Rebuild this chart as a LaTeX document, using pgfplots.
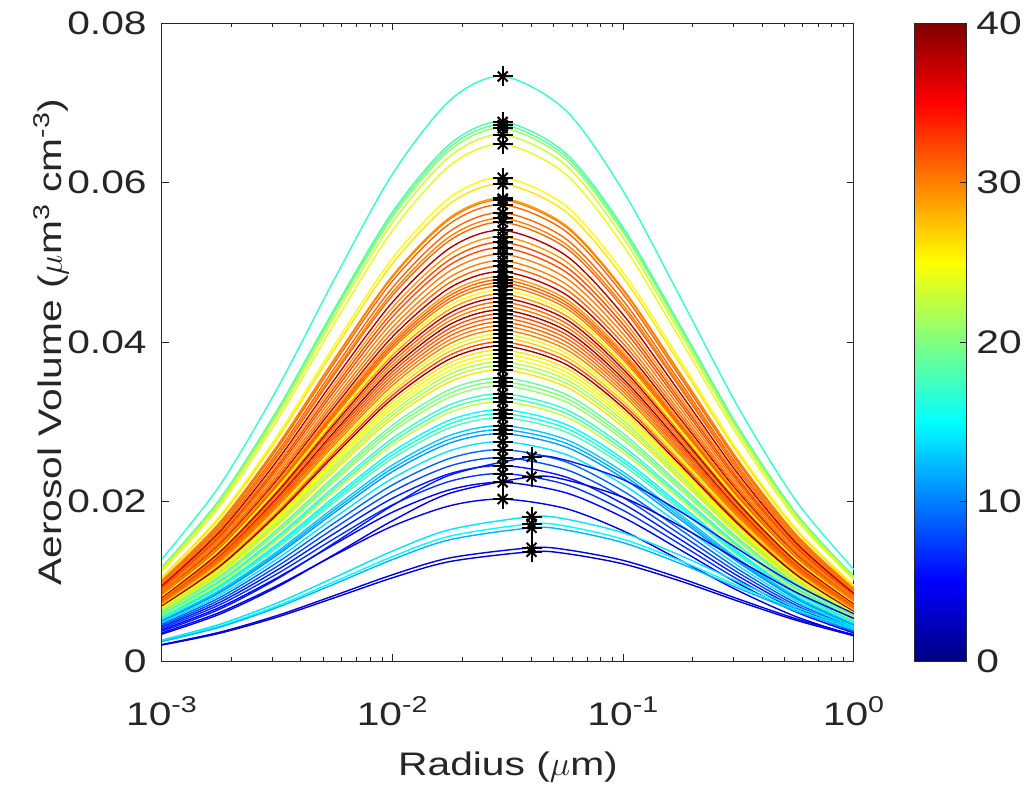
\documentclass[border=0pt]{standalone}
\usepackage{fontspec}
\setmainfont{Liberation Sans}[FakeStretch=1.25]
\usepackage{pgfplots}
\usepackage{pgfplotstable}
\pgfplotsset{compat=1.18}
\definecolor{axgray}{RGB}{38,38,38}

% size distributions, modal radius 0.03 um
\pgfplotstableread{
x        c1      c2      c3      c4      c5      c6      c7      c8      c9      c10     c11
0.001    0.01280 0.01180 0.01173 0.01166 0.01152 0.01131 0.01058 0.01044 0.01013 0.00999 0.00981
0.001778 0.02198 0.02027 0.02015 0.02003 0.01979 0.01943 0.01817 0.01793 0.01739 0.01715 0.01685
0.003162 0.03416 0.03150 0.03132 0.03113 0.03076 0.03020 0.02824 0.02787 0.02703 0.02666 0.02619
0.005623 0.04803 0.04429 0.04403 0.04377 0.04324 0.04246 0.03971 0.03918 0.03800 0.03748 0.03682
0.01     0.06110 0.05635 0.05602 0.05568 0.05502 0.05402 0.05052 0.04985 0.04835 0.04768 0.04685
0.01778  0.07034 0.06487 0.06449 0.06410 0.06333 0.06218 0.05815 0.05738 0.05566 0.05489 0.05393
0.03     0.0733  0.0676  0.0672  0.0668  0.0660  0.0648  0.0606  0.0598  0.0580  0.0572  0.0562
0.05623  0.06906 0.06369 0.06331 0.06293 0.06218 0.06105 0.05709 0.05634 0.05464 0.05389 0.05295
0.1      0.05890 0.05432 0.05400 0.05367 0.05303 0.05207 0.04869 0.04805 0.04660 0.04596 0.04516
0.1778   0.04545 0.04191 0.04166 0.04142 0.04092 0.04018 0.03757 0.03708 0.03596 0.03546 0.03484
0.3162   0.03173 0.02926 0.02909 0.02892 0.02857 0.02805 0.02623 0.02589 0.02511 0.02476 0.02433
0.5623   0.02005 0.01849 0.01838 0.01827 0.01805 0.01772 0.01657 0.01636 0.01586 0.01564 0.01537
1        0.01146 0.01057 0.01051 0.01045 0.01032 0.01014 0.00948 0.00935 0.00907 0.00895 0.00879
}\tabA

\pgfplotstableread{
x        c1      c2      c3      c4      c5      c6      c7      c8      c9      c10     c11
0.001    0.00969 0.00943 0.00917 0.00890 0.00864 0.00842 0.00828 0.00812 0.00794 0.00777 0.00760
0.001778 0.01664 0.01619 0.01574 0.01529 0.01485 0.01446 0.01422 0.01395 0.01365 0.01335 0.01305
0.003162 0.02586 0.02516 0.02447 0.02377 0.02307 0.02246 0.02209 0.02167 0.02120 0.02074 0.02027
0.005623 0.03636 0.03538 0.03440 0.03342 0.03243 0.03158 0.03106 0.03047 0.02981 0.02916 0.02850
0.01     0.04626 0.04501 0.04376 0.04251 0.04126 0.04018 0.03951 0.03876 0.03793 0.03709 0.03626
0.01778  0.05326 0.05182 0.05038 0.04894 0.04750 0.04625 0.04549 0.04462 0.04366 0.04270 0.04174
0.03     0.0555  0.0540  0.0525  0.0510  0.0495  0.0482  0.0474  0.0465  0.0455  0.0445  0.0435
0.05623  0.05229 0.05087 0.04946 0.04805 0.04663 0.04541 0.04466 0.04381 0.04287 0.04192 0.04098
0.1      0.04459 0.04339 0.04218 0.04098 0.03977 0.03873 0.03809 0.03736 0.03656 0.03576 0.03495
0.1778   0.03441 0.03348 0.03255 0.03162 0.03069 0.02988 0.02939 0.02883 0.02821 0.02759 0.02697
0.3162   0.02403 0.02338 0.02273 0.02208 0.02143 0.02087 0.02052 0.02013 0.01970 0.01926 0.01883
0.5623   0.01518 0.01477 0.01436 0.01395 0.01354 0.01318 0.01296 0.01272 0.01244 0.01217 0.01190
1        0.00868 0.00845 0.00821 0.00798 0.00774 0.00754 0.00741 0.00727 0.00712 0.00696 0.00680
}\tabB

\pgfplotstableread{
x        c1      c2      c3      c4      c5      c6      c7      c8      c9      c10     c11
0.001    0.00742 0.00725 0.00707 0.00690 0.00672 0.00655 0.00637 0.00620 0.00602 0.00585 0.00567
0.001778 0.01275 0.01245 0.01215 0.01185 0.01155 0.01125 0.01095 0.01065 0.01035 0.01005 0.00975
0.003162 0.01981 0.01934 0.01887 0.01841 0.01794 0.01748 0.01701 0.01654 0.01608 0.01561 0.01515
0.005623 0.02785 0.02719 0.02654 0.02588 0.02523 0.02457 0.02391 0.02326 0.02260 0.02195 0.02129
0.01     0.03543 0.03459 0.03376 0.03293 0.03209 0.03126 0.03043 0.02959 0.02876 0.02793 0.02709
0.01778  0.04078 0.03982 0.03886 0.03790 0.03694 0.03599 0.03503 0.03407 0.03311 0.03215 0.03119
0.03     0.0425  0.0415  0.0405  0.0395  0.0385  0.0375  0.0365  0.0355  0.0345  0.0335  0.0325
0.05623  0.04004 0.03910 0.03816 0.03721 0.03627 0.03533 0.03439 0.03345 0.03250 0.03156 0.03062
0.1      0.03415 0.03335 0.03254 0.03174 0.03093 0.03013 0.02933 0.02852 0.02772 0.02692 0.02611
0.1778   0.02635 0.02573 0.02511 0.02449 0.02387 0.02325 0.02263 0.02201 0.02139 0.02077 0.02015
0.3162   0.01840 0.01797 0.01753 0.01710 0.01667 0.01623 0.01580 0.01537 0.01494 0.01450 0.01407
0.5623   0.01162 0.01135 0.01108 0.01080 0.01053 0.01026 0.00998 0.00971 0.00944 0.00916 0.00889
1        0.00665 0.00649 0.00633 0.00618 0.00602 0.00587 0.00571 0.00555 0.00540 0.00524 0.00508
}\tabC

\pgfplotstableread{
x        c1      c2      c3      c4      c5      c6      c7      c8      c9      c10     c11
0.001    0.00550 0.00533 0.00515 0.00498 0.00480 0.00463 0.00445 0.00428 0.00410 0.00391 0.00354
0.001778 0.00945 0.00915 0.00885 0.00855 0.00825 0.00795 0.00765 0.00735 0.00705 0.00672 0.00609
0.003162 0.01468 0.01421 0.01375 0.01328 0.01282 0.01235 0.01188 0.01142 0.01095 0.01044 0.00946
0.005623 0.02064 0.01998 0.01933 0.01867 0.01802 0.01736 0.01671 0.01605 0.01540 0.01468 0.01330
0.01     0.02626 0.02542 0.02459 0.02376 0.02292 0.02209 0.02126 0.02042 0.01959 0.01867 0.01692
0.01778  0.03023 0.02927 0.02831 0.02735 0.02639 0.02543 0.02447 0.02351 0.02255 0.02149 0.01948
0.03     0.0315  0.0305  0.0295  0.0285  0.0275  0.0265  0.0255  0.0245  0.0235  0.0224  0.0203
0.05623  0.02968 0.02873 0.02779 0.02685 0.02591 0.02497 0.02402 0.02308 0.02214 0.02110 0.01912
0.1      0.02531 0.02451 0.02370 0.02290 0.02210 0.02129 0.02049 0.01969 0.01888 0.01800 0.01631
0.1778   0.01953 0.01891 0.01829 0.01767 0.01705 0.01643 0.01581 0.01519 0.01457 0.01389 0.01259
0.3162   0.01364 0.01320 0.01277 0.01234 0.01190 0.01147 0.01104 0.01061 0.01017 0.00970 0.00879
0.5623   0.00862 0.00834 0.00807 0.00779 0.00752 0.00725 0.00697 0.00670 0.00643 0.00613 0.00555
1        0.00493 0.00477 0.00461 0.00446 0.00430 0.00414 0.00399 0.00383 0.00368 0.00350 0.00317
}\tabD

\pgfplotstableread{
x        c1      c2      c3      c4      c5      c6      c7      c8      c9      c10     c11
0.001    0.01009 0.00960 0.00929 0.00904 0.00876 0.00852 0.00835 0.00821 0.00803 0.00786 0.00768
0.001778 0.01733 0.01649 0.01595 0.01553 0.01505 0.01464 0.01434 0.01410 0.01380 0.01350 0.01320
0.003162 0.02693 0.02563 0.02479 0.02414 0.02339 0.02274 0.02227 0.02190 0.02144 0.02097 0.02050
0.005623 0.03787 0.03604 0.03486 0.03394 0.03289 0.03197 0.03132 0.03079 0.03014 0.02948 0.02883
0.01     0.04818 0.04585 0.04435 0.04318 0.04185 0.04068 0.03985 0.03918 0.03835 0.03751 0.03668
0.01778  0.05546 0.05278 0.05105 0.04971 0.04817 0.04683 0.04587 0.04510 0.04414 0.04318 0.04222
0.03     0.0578  0.0550  0.0532  0.0518  0.0502  0.0488  0.0478  0.0470  0.0460  0.0450  0.0440
0.05623  0.05445 0.05182 0.05012 0.04880 0.04729 0.04597 0.04503 0.04428 0.04334 0.04239 0.04145
0.1      0.04644 0.04419 0.04275 0.04162 0.04034 0.03921 0.03841 0.03776 0.03696 0.03616 0.03535
0.1778   0.03584 0.03410 0.03298 0.03212 0.03112 0.03026 0.02964 0.02914 0.02852 0.02790 0.02728
0.3162   0.02502 0.02381 0.02303 0.02242 0.02173 0.02113 0.02069 0.02035 0.01991 0.01948 0.01905
0.5623   0.01581 0.01504 0.01455 0.01417 0.01373 0.01335 0.01307 0.01285 0.01258 0.01231 0.01203
1        0.00904 0.00860 0.00832 0.00810 0.00785 0.00763 0.00748 0.00735 0.00719 0.00704 0.00688
}\tabF

\pgfplotstableread{
x        c1      c2      c3      c4      c5      c6      c7      c8      c9      c10     c11
0.001    0.00751 0.00733 0.00716 0.00698 0.00681 0.00663 0.00646 0.00611 0.00576 0.00541 0.00506
0.001778 0.01290 0.01260 0.01230 0.01200 0.01170 0.01140 0.01110 0.01050 0.00990 0.00930 0.00870
0.003162 0.02004 0.01957 0.01911 0.01864 0.01817 0.01771 0.01724 0.01631 0.01538 0.01445 0.01351
0.005623 0.02817 0.02752 0.02686 0.02621 0.02555 0.02490 0.02424 0.02293 0.02162 0.02031 0.01900
0.01     0.03584 0.03501 0.03418 0.03334 0.03251 0.03168 0.03084 0.02918 0.02751 0.02584 0.02417
0.01778  0.04126 0.04030 0.03934 0.03838 0.03742 0.03646 0.03551 0.03359 0.03167 0.02975 0.02783
0.03     0.0430  0.0420  0.0410  0.0400  0.0390  0.0380  0.0370  0.0350  0.0330  0.0310  0.0290
0.05623  0.04051 0.03957 0.03863 0.03768 0.03674 0.03580 0.03486 0.03297 0.03109 0.02921 0.02732
0.1      0.03455 0.03375 0.03294 0.03214 0.03134 0.03053 0.02973 0.02812 0.02652 0.02491 0.02330
0.1778   0.02666 0.02604 0.02542 0.02480 0.02418 0.02356 0.02294 0.02170 0.02046 0.01922 0.01798
0.3162   0.01861 0.01818 0.01775 0.01732 0.01688 0.01645 0.01602 0.01515 0.01429 0.01342 0.01255
0.5623   0.01176 0.01149 0.01121 0.01094 0.01067 0.01039 0.01012 0.00957 0.00903 0.00848 0.00793
1        0.00673 0.00657 0.00641 0.00626 0.00610 0.00594 0.00579 0.00547 0.00516 0.00485 0.00454
}\tabG

% modal radius 0.04 um
\pgfplotstableread{
x        c1      c2      c3      c4      c5      c6      c7
0.001    0.00374 0.00337 0.00264 0.00251 0.00244 0.00207 0.00200
0.001778 0.00650 0.00587 0.00460 0.00437 0.00424 0.00361 0.00348
0.003162 0.01030 0.00929 0.00728 0.00692 0.00672 0.00571 0.00551
0.005623 0.01485 0.01340 0.01050 0.00998 0.00969 0.00824 0.00795
0.01     0.01951 0.01760 0.01379 0.01311 0.01273 0.01082 0.01044
0.01778  0.02333 0.02105 0.01649 0.01567 0.01522 0.01294 0.01248
0.04     0.0256  0.0231  0.0181  0.0172  0.0167  0.0142  0.0137
0.05623  0.02518 0.02272 0.01780 0.01692 0.01643 0.01397 0.01348
0.1      0.02273 0.02051 0.01607 0.01527 0.01483 0.01261 0.01217
0.1778   0.01869 0.01686 0.01321 0.01255 0.01219 0.01036 0.01000
0.3162   0.01398 0.01262 0.00989 0.00939 0.00912 0.00776 0.00748
0.5623   0.00953 0.00860 0.00674 0.00640 0.00622 0.00529 0.00510
1        0.00591 0.00533 0.00418 0.00397 0.00386 0.00329 0.00316
}\tabE

% peak positions of all distributions
\pgfplotstableread{
r     v
0.03  0.0733
0.03  0.0676
0.03  0.0672
0.03  0.0668
0.03  0.0660
0.03  0.0648
0.03  0.0606
0.03  0.0598
0.03  0.0580
0.03  0.0578
0.03  0.0572
0.03  0.0562
0.03  0.0555
0.03  0.0550
0.03  0.0540
0.03  0.0532
0.03  0.0525
0.03  0.0518
0.03  0.0510
0.03  0.0502
0.03  0.0495
0.03  0.0488
0.03  0.0482
0.03  0.0478
0.03  0.0474
0.03  0.0470
0.03  0.0465
0.03  0.0460
0.03  0.0455
0.03  0.0450
0.03  0.0445
0.03  0.0440
0.03  0.0435
0.03  0.0430
0.03  0.0425
0.03  0.0420
0.03  0.0415
0.03  0.0410
0.03  0.0405
0.03  0.0400
0.03  0.0395
0.03  0.0390
0.03  0.0385
0.03  0.0380
0.03  0.0375
0.03  0.0370
0.03  0.0365
0.03  0.0355
0.03  0.0350
0.03  0.0345
0.03  0.0335
0.03  0.0330
0.03  0.0325
0.03  0.0315
0.03  0.0310
0.03  0.0305
0.03  0.0295
0.03  0.0290
0.03  0.0285
0.03  0.0275
0.03  0.0265
0.03  0.0255
0.03  0.0245
0.03  0.0235
0.03  0.0224
0.03  0.0203
0.04  0.0256
0.04  0.0231
0.04  0.0181
0.04  0.0172
0.04  0.0167
0.04  0.0142
0.04  0.0137
}\peaks

\begin{document}
\fontsize{16.3}{19}\selectfont
\begin{tikzpicture}
\useasboundingbox (-81pt,-66.5pt) rectangle (431pt,330.5pt);
\begin{axis}[
  at={(0,0)}, anchor=south west,
  scale only axis, width=346pt, height=319pt,
  xmode=log, xmin=0.001, xmax=1, ymin=0, ymax=0.08,
  xtick={0.001,0.01,0.1,1},
  xticklabels={10\textsuperscript{-3},10\textsuperscript{-2},10\textsuperscript{-1},10\textsuperscript{0}},
  ytick={0,0.02,0.04,0.06,0.08},
  yticklabels={0,0.02,0.04,0.06,0.08},
  scaled y ticks=false,
  axis line style={draw=axgray, line width=0.5pt},
  tick style={draw=axgray, line width=0.5pt},
  major tick length=3.5pt, minor tick length=2pt,
  tick label style={text=axgray},
  xticklabel style={anchor=base, yshift=-32pt},
  yticklabel style={anchor=east, inner sep=0pt, xshift=-7.5pt},
  xlabel={Radius ($\mu$m)},
  ylabel={Aerosol Volume ($\mu$m\textsuperscript{3} cm\textsuperscript{-3})},
  xlabel style={at={(axis description cs:0.5,-0.1787)}, anchor=base, text=axgray},
  ylabel style={at={(axis description cs:-0.1445,0.5)}, anchor=base, text=axgray},
  colormap/jet,
  curve/.style={smooth, line width=0.7pt},
]
\addplot[curve, color of colormap={425 of jet}] table[x=x,y=c1]{\tabA};
\addplot[curve, color of colormap={450 of jet}] table[x=x,y=c2]{\tabA};
\addplot[curve, color of colormap={475 of jet}] table[x=x,y=c3]{\tabA};
\addplot[curve, color of colormap={525 of jet}] table[x=x,y=c4]{\tabA};
\addplot[curve, color of colormap={575 of jet}] table[x=x,y=c5]{\tabA};
\addplot[curve, color of colormap={600 of jet}] table[x=x,y=c6]{\tabA};
\addplot[curve, color of colormap={625 of jet}] table[x=x,y=c7]{\tabA};
\addplot[curve, color of colormap={650 of jet}] table[x=x,y=c8]{\tabA};
\addplot[curve, color of colormap={725 of jet}] table[x=x,y=c9]{\tabA};
\addplot[curve, color of colormap={775 of jet}] table[x=x,y=c10]{\tabA};
\addplot[curve, color of colormap={775 of jet}] table[x=x,y=c11]{\tabA};

\addplot[curve, color of colormap={750 of jet}] table[x=x,y=c1]{\tabF};
\addplot[curve, color of colormap={775 of jet}] table[x=x,y=c2]{\tabF};
\addplot[curve, color of colormap={725 of jet}] table[x=x,y=c3]{\tabF};
\addplot[curve, color of colormap={800 of jet}] table[x=x,y=c4]{\tabF};
\addplot[curve, color of colormap={750 of jet}] table[x=x,y=c5]{\tabF};
\addplot[curve, color of colormap={950 of jet}] table[x=x,y=c6]{\tabF};
\addplot[curve, color of colormap={775 of jet}] table[x=x,y=c7]{\tabF};
\addplot[curve, color of colormap={750 of jet}] table[x=x,y=c8]{\tabF};
\addplot[curve, color of colormap={725 of jet}] table[x=x,y=c9]{\tabF};
\addplot[curve, color of colormap={775 of jet}] table[x=x,y=c10]{\tabF};
\addplot[curve, color of colormap={975 of jet}] table[x=x,y=c11]{\tabF};

\addplot[curve, color of colormap={750 of jet}] table[x=x,y=c1]{\tabB};
\addplot[curve, color of colormap={950 of jet}] table[x=x,y=c2]{\tabB};
\addplot[curve, color of colormap={800 of jet}] table[x=x,y=c3]{\tabB};
\addplot[curve, color of colormap={750 of jet}] table[x=x,y=c4]{\tabB};
\addplot[curve, color of colormap={775 of jet}] table[x=x,y=c5]{\tabB};
\addplot[curve, color of colormap={725 of jet}] table[x=x,y=c6]{\tabB};
\addplot[curve, color of colormap={775 of jet}] table[x=x,y=c7]{\tabB};
\addplot[curve, color of colormap={625 of jet}] table[x=x,y=c8]{\tabB};
\addplot[curve, color of colormap={950 of jet}] table[x=x,y=c9]{\tabB};
\addplot[curve, color of colormap={750 of jet}] table[x=x,y=c10]{\tabB};
\addplot[curve, color of colormap={800 of jet}] table[x=x,y=c11]{\tabB};

\addplot[curve, color of colormap={775 of jet}] table[x=x,y=c1]{\tabG};
\addplot[curve, color of colormap={750 of jet}] table[x=x,y=c2]{\tabG};
\addplot[curve, color of colormap={600 of jet}] table[x=x,y=c3]{\tabG};
\addplot[curve, color of colormap={800 of jet}] table[x=x,y=c4]{\tabG};
\addplot[curve, color of colormap={650 of jet}] table[x=x,y=c5]{\tabG};
\addplot[curve, color of colormap={625 of jet}] table[x=x,y=c6]{\tabG};
\addplot[curve, color of colormap={550 of jet}] table[x=x,y=c7]{\tabG};
\addplot[curve, color of colormap={500 of jet}] table[x=x,y=c8]{\tabG};
\addplot[curve, color of colormap={450 of jet}] table[x=x,y=c9]{\tabG};
\addplot[curve, color of colormap={400 of jet}] table[x=x,y=c10]{\tabG};
\addplot[curve, color of colormap={300 of jet}] table[x=x,y=c11]{\tabG};

\addplot[curve, color of colormap={775 of jet}] table[x=x,y=c1]{\tabC};
\addplot[curve, color of colormap={750 of jet}] table[x=x,y=c2]{\tabC};
\addplot[curve, color of colormap={675 of jet}] table[x=x,y=c3]{\tabC};
\addplot[curve, color of colormap={975 of jet}] table[x=x,y=c4]{\tabC};
\addplot[curve, color of colormap={600 of jet}] table[x=x,y=c5]{\tabC};
\addplot[curve, color of colormap={550 of jet}] table[x=x,y=c6]{\tabC};
\addplot[curve, color of colormap={650 of jet}] table[x=x,y=c7]{\tabC};
\addplot[curve, color of colormap={475 of jet}] table[x=x,y=c8]{\tabC};
\addplot[curve, color of colormap={525 of jet}] table[x=x,y=c9]{\tabC};
\addplot[curve, color of colormap={425 of jet}] table[x=x,y=c10]{\tabC};
\addplot[curve, color of colormap={575 of jet}] table[x=x,y=c11]{\tabC};

\addplot[curve, color of colormap={375 of jet}] table[x=x,y=c1]{\tabD};
\addplot[curve, color of colormap={450 of jet}] table[x=x,y=c2]{\tabD};
\addplot[curve, color of colormap={325 of jet}] table[x=x,y=c3]{\tabD};
\addplot[curve, color of colormap={275 of jet}] table[x=x,y=c4]{\tabD};
\addplot[curve, color of colormap={350 of jet}] table[x=x,y=c5]{\tabD};
\addplot[curve, color of colormap={225 of jet}] table[x=x,y=c6]{\tabD};
\addplot[curve, color of colormap={200 of jet}] table[x=x,y=c7]{\tabD};
\addplot[curve, color of colormap={150 of jet}] table[x=x,y=c8]{\tabD};
\addplot[curve, color of colormap={175 of jet}] table[x=x,y=c9]{\tabD};
\addplot[curve, color of colormap={125 of jet}] table[x=x,y=c10]{\tabD};
\addplot[curve, color of colormap={100 of jet}] table[x=x,y=c11]{\tabD};

\addplot[curve, color of colormap={150 of jet}] table[x=x,y=c1]{\tabE};
\addplot[curve, color of colormap={100 of jet}] table[x=x,y=c2]{\tabE};
\addplot[curve, color of colormap={350 of jet}] table[x=x,y=c3]{\tabE};
\addplot[curve, color of colormap={375 of jet}] table[x=x,y=c4]{\tabE};
\addplot[curve, color of colormap={300 of jet}] table[x=x,y=c5]{\tabE};
\addplot[curve, color of colormap={100 of jet}] table[x=x,y=c6]{\tabE};
\addplot[curve, color of colormap={75 of jet}] table[x=x,y=c7]{\tabE};

% peak markers (MATLAB '*' = plus + cross)
\addplot[only marks, mark=+, mark size=5pt, black, line width=1pt] table[x=r,y=v]{\peaks};
\addplot[only marks, mark=x, mark size=3.5pt, black, line width=1pt] table[x=r,y=v]{\peaks};
\end{axis}

% colour bar
\begin{axis}[
  at={(376pt,0)}, anchor=south west,
  scale only axis, width=26pt, height=319pt,
  xmin=0, xmax=1, ymin=0, ymax=40,
  xtick=\empty,
  ytick={0,10,20,30,40}, yticklabels={0,10,20,30,40},
  ytick pos=right, yticklabel pos=right,
  axis on top,
  axis line style={draw=axgray, line width=0.5pt},
  tick style={draw=axgray, line width=0.5pt},
  major tick length=3pt,
  yticklabel style={text=axgray, anchor=west, inner sep=0pt, xshift=5pt},
  colormap/jet, point meta min=0, point meta max=40,
]
\addplot[surf, shader=interp, point meta=y, mesh/cols=2] coordinates {
  (0,0) (1,0) (0,5) (1,5) (0,15) (1,15) (0,25) (1,25) (0,35) (1,35) (0,40) (1,40)
};
\end{axis}
\end{tikzpicture}
\end{document}
